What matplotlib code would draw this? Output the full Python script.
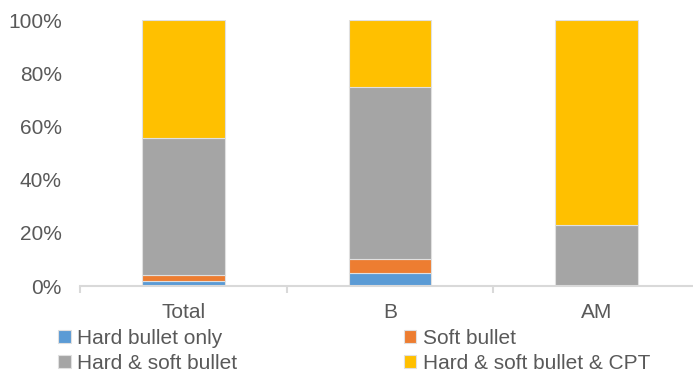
import numpy as np
import matplotlib.pyplot as plt
from matplotlib.ticker import FuncFormatter

plt.rcParams['font.family'] = ['Liberation Sans', 'DejaVu Sans']

categories = ['Total', 'B', 'AM']
hard_only = [1.7, 5.0, 0.0]
soft = [2.3, 5.0, 0.0]
hard_soft = [51.5, 65.0, 23.0]
hard_soft_cpt = [44.5, 25.0, 77.0]

series = [
    ('Hard bullet only', hard_only, '#5b9bd5'),
    ('Soft bullet', soft, '#ed7d31'),
    ('Hard & soft bullet', hard_soft, '#a5a5a5'),
    ('Hard & soft bullet & CPT', hard_soft_cpt, '#ffc000'),
]

txt = '#595959'
fig = plt.figure(figsize=(6.93, 3.72), dpi=100)
ax = fig.add_axes([80 / 693, 86 / 372, 620 / 693, 266 / 372])

x = np.arange(len(categories))
bottom = np.zeros(len(categories))
handles = []
for name, vals, col in series:
    h = ax.bar(x, vals, 0.4, bottom=bottom, color=col, edgecolor='#e0e0e0',
               linewidth=0.8, label=name, zorder=2)
    handles.append(h)
    bottom += np.array(vals)

ax.set_xlim(-0.5, 2.5)
ax.set_ylim(0, 100)
ax.set_yticks(np.arange(0, 101, 20))
ax.yaxis.set_major_formatter(FuncFormatter(lambda v, p: f'{v:.0f}%'))
ax.set_xticks(x)
ax.set_xticklabels(categories)
ax.set_xticks([-0.5, 0.5, 1.5, 2.5], minor=True)

for s in ['top', 'right', 'left']:
    ax.spines[s].set_visible(False)
ax.spines['bottom'].set_color('#d9d9d9')
ax.spines['bottom'].set_linewidth(1.5)

ax.tick_params(axis='y', length=0, labelsize=15, labelcolor=txt, pad=13)
ax.tick_params(axis='x', which='major', length=0, labelsize=15, labelcolor=txt, pad=12)
ax.tick_params(axis='x', which='minor', length=5, width=1.5, color='#d9d9d9')

# legend is filled row by row in the reference
order = [0, 2, 1, 3]
fig.legend(handles=[handles[i] for i in order], loc='lower left',
           bbox_to_anchor=(50 / 693, -0.025),
           ncol=2, frameon=False, fontsize=15, labelcolor=txt,
           handlelength=0.6, handleheight=0.6, handletextpad=0.3,
           columnspacing=8.0, labelspacing=0.3, borderaxespad=0)

fig.savefig('out.png', dpi=100)
